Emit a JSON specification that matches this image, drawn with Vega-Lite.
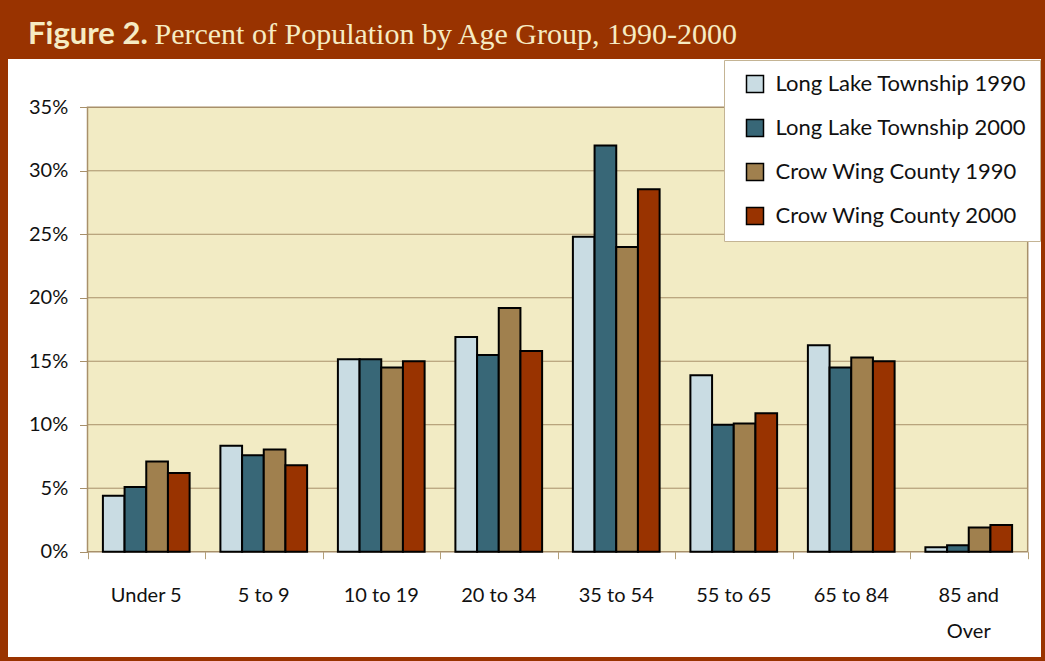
{
  "$schema": "https://vega.github.io/schema/vega-lite/v6.json",
  "autosize": {"type": "none"},
  "width": 1033,
  "height": 598,
  "padding": {"left": 8, "top": 59, "right": 4, "bottom": 4},
  "background": "#993300",
  "config": {
    "font": "Lato",
    "view": {"fill": "white", "stroke": null}
  },
  "data": {
    "values": [
      {"age": "Under 5", "series": "Long Lake Township 1990", "pct": 4.4},
      {"age": "Under 5", "series": "Long Lake Township 2000", "pct": 5.1},
      {"age": "Under 5", "series": "Crow Wing County 1990", "pct": 7.1},
      {"age": "Under 5", "series": "Crow Wing County 2000", "pct": 6.2},
      {"age": "5 to 9", "series": "Long Lake Township 1990", "pct": 8.35},
      {"age": "5 to 9", "series": "Long Lake Township 2000", "pct": 7.6},
      {"age": "5 to 9", "series": "Crow Wing County 1990", "pct": 8.05},
      {"age": "5 to 9", "series": "Crow Wing County 2000", "pct": 6.8},
      {"age": "10 to 19", "series": "Long Lake Township 1990", "pct": 15.15},
      {"age": "10 to 19", "series": "Long Lake Township 2000", "pct": 15.15},
      {"age": "10 to 19", "series": "Crow Wing County 1990", "pct": 14.5},
      {"age": "10 to 19", "series": "Crow Wing County 2000", "pct": 15.0},
      {"age": "20 to 34", "series": "Long Lake Township 1990", "pct": 16.9},
      {"age": "20 to 34", "series": "Long Lake Township 2000", "pct": 15.5},
      {"age": "20 to 34", "series": "Crow Wing County 1990", "pct": 19.2},
      {"age": "20 to 34", "series": "Crow Wing County 2000", "pct": 15.8},
      {"age": "35 to 54", "series": "Long Lake Township 1990", "pct": 24.8},
      {"age": "35 to 54", "series": "Long Lake Township 2000", "pct": 32.0},
      {"age": "35 to 54", "series": "Crow Wing County 1990", "pct": 24.0},
      {"age": "35 to 54", "series": "Crow Wing County 2000", "pct": 28.55},
      {"age": "55 to 65", "series": "Long Lake Township 1990", "pct": 13.9},
      {"age": "55 to 65", "series": "Long Lake Township 2000", "pct": 10.0},
      {"age": "55 to 65", "series": "Crow Wing County 1990", "pct": 10.1},
      {"age": "55 to 65", "series": "Crow Wing County 2000", "pct": 10.9},
      {"age": "65 to 84", "series": "Long Lake Township 1990", "pct": 16.25},
      {"age": "65 to 84", "series": "Long Lake Township 2000", "pct": 14.5},
      {"age": "65 to 84", "series": "Crow Wing County 1990", "pct": 15.3},
      {"age": "65 to 84", "series": "Crow Wing County 2000", "pct": 15.0},
      {"age": "85 and Over", "series": "Long Lake Township 1990", "pct": 0.35},
      {"age": "85 and Over", "series": "Long Lake Township 2000", "pct": 0.5},
      {"age": "85 and Over", "series": "Crow Wing County 1990", "pct": 1.9},
      {"age": "85 and Over", "series": "Crow Wing County 2000", "pct": 2.1}
    ]
  },
  "resolve": {"scale": {"x": "independent"}, "axis": {"x": "independent", "y": "independent"}},
  "layer": [
    {
      "data": {"values": [{}]},
      "mark": {"type": "rect", "fill": "#F2EBC4", "strokeWidth": 0},
      "encoding": {
        "x": {"datum": 0, "type": "quantitative",
          "scale": {"domain": [-0.6765, 8.1132], "zero": false, "nice": false},
          "axis": {"orient": "bottom", "offset": -105.3, "values": [0,1,2,3,4,5,6,7,8], "domain": false, "labels": false, "grid": false, "ticks": true, "tickSize": 7, "tickColor": "#B39F78", "tickWidth": 1, "title": null}},
        "x2": {"datum": 8},
        "y": {"datum": 0, "type": "quantitative",
          "scale": {"domain": [-8.293, 38.804], "zero": false, "nice": false},
          "axis": {"orient": "left", "offset": -79.5, "values": [0,5,10,15,20,25,30,35], "domain": false, "grid": false, "ticks": true, "tickSize": 8, "tickColor": "#A8906A", "tickWidth": 1, "labelPadding": 11.8, "labelFontSize": 20, "labelFont": "Lato", "labelColor": "#111111", "labelExpr": "datum.value + '%'", "title": null}},
        "y2": {"datum": 35}
      }
    },
    {
      "data": {"values": [{"grid": 5}, {"grid": 10}, {"grid": 15}, {"grid": 20}, {"grid": 25}, {"grid": 30}]},
      "mark": {"type": "rule", "color": "#A8906A", "strokeWidth": 1},
      "encoding": {
        "x": {"datum": 0, "type": "quantitative",
          "scale": {"domain": [-0.6765, 8.1132], "zero": false, "nice": false},
          "axis": {"orient": "top", "domain": false, "labels": false, "ticks": false, "grid": false, "title": "Figure 2.", "titleX": 19.5, "titleY": -15.7, "titleAlign": "left", "titleAnchor": "start", "titleBaseline": "alphabetic", "titleAngle": 0, "titleFont": "Lato", "titleFontWeight": "bold", "titleFontSize": 31, "titleColor": "#F6EBC3"}},
        "x2": {"datum": 8},
        "y": {"field": "grid", "type": "quantitative",
          "scale": {"domain": [-8.293, 38.804], "zero": false, "nice": false},
          "axis": null}
      }
    },
    {
      "data": {"values": [{}]},
      "mark": {"type": "rect", "fill": null, "stroke": "#A8906A", "strokeWidth": 1.5},
      "encoding": {
        "x": {"datum": 0, "type": "quantitative",
          "scale": {"domain": [-0.6765, 8.1132], "zero": false, "nice": false},
          "axis": {"orient": "top", "domain": false, "labels": false, "ticks": false, "grid": false, "title": "Percent of Population by Age Group, 1990-2000", "titleX": 146, "titleY": -15.7, "titleAlign": "left", "titleAnchor": "start", "titleBaseline": "alphabetic", "titleAngle": 0, "titleFont": "Liberation Serif", "titleFontWeight": "normal", "titleFontSize": 30, "titleColor": "#F6EBC3"}},
        "x2": {"datum": 8},
        "y": {"datum": 0, "type": "quantitative",
          "scale": {"domain": [-8.293, 38.804], "zero": false, "nice": false},
          "axis": null},
        "y2": {"datum": 35}
      }
    },
    {
      "mark": {"type": "bar", "stroke": "black", "strokeWidth": 2},
      "encoding": {
        "x": {"field": "age", "type": "nominal",
          "sort": ["Under 5", "5 to 9", "10 to 19", "20 to 34", "35 to 54", "55 to 65", "65 to 84", "85 and Over"],
          "scale": {"paddingInner": 0.262, "paddingOuter": 0.5268, "align": 0.7666},
          "axis": {"orient": "bottom", "offset": -105.3, "domain": false, "ticks": false, "tickSize": 0, "grid": false, "labelPadding": 33.6, "labelFontSize": 20, "labelFont": "Lato", "labelColor": "#111111", "labelAngle": 0, "labelBaseline": "top", "labelLineHeight": 36, "labelOverlap": false, "labelLimit": 0, "labelExpr": "datum.label == '85 and Over' ? ['85 and', 'Over'] : datum.label", "title": null}},
        "xOffset": {"field": "series", "type": "nominal",
          "sort": ["Long Lake Township 1990", "Long Lake Township 2000", "Crow Wing County 1990", "Crow Wing County 2000"],
          "scale": {"paddingInner": 0, "paddingOuter": 0}},
        "y": {"field": "pct", "type": "quantitative",
          "scale": {"domain": [-8.293, 38.804], "zero": false, "nice": false},
          "axis": null},
        "color": {"field": "series", "type": "nominal",
          "sort": ["Long Lake Township 1990", "Long Lake Township 2000", "Crow Wing County 1990", "Crow Wing County 2000"],
          "scale": {"domain": ["Long Lake Township 1990", "Long Lake Township 2000", "Crow Wing County 1990", "Crow Wing County 2000"], "range": ["#C9DCE3", "#386777", "#A0804E", "#993300"]},
          "legend": {"title": null, "orient": "top-right", "offset": 1, "padding": 13, "symbolOffset": 7, "fillColor": "white", "strokeColor": "#C4B494", "symbolType": "square", "symbolSize": 289, "symbolStrokeColor": "black", "symbolStrokeWidth": 1.5, "labelFontSize": 22, "labelFont": "Lato", "labelColor": "#111111", "labelOffset": 9.5, "rowPadding": 20, "labelLimit": 0, "cornerRadius": 0}}
      }
    }
  ]
}
